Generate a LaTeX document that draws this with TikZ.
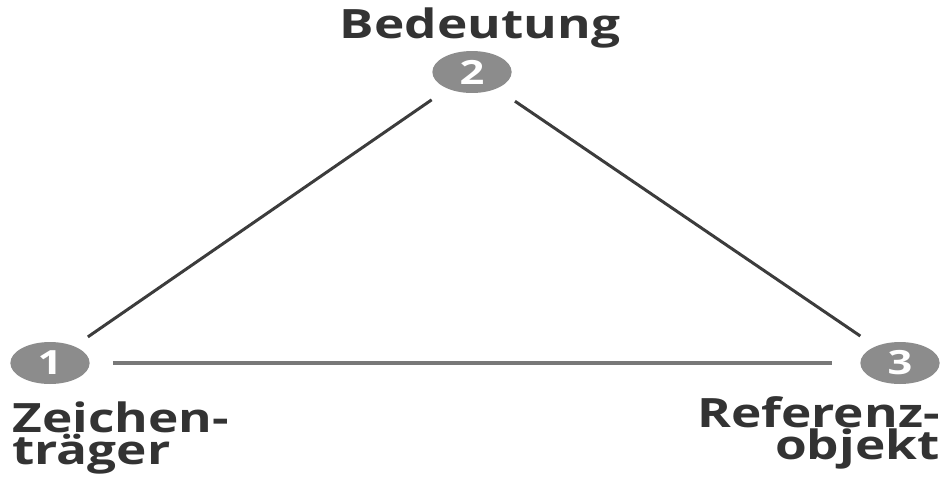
\documentclass[tikz,border=0pt]{standalone}
\usepackage{fontspec}
\setmainfont{Open Sans}
\usetikzlibrary{shapes.geometric}
\definecolor{txtgray}{HTML}{333333}
\definecolor{numgray}{HTML}{8C8C8C}
\definecolor{linegray}{HTML}{3C3C3C}
\definecolor{basegray}{HTML}{787878}
\begin{document}
\begin{tikzpicture}[x=0.02cm, y=-0.02cm,
		num/.style={ellipse, fill=numgray, minimum width=1.22cm, minimum height=0.84cm, inner sep=0pt,
			text=white, font=\fontsize{19}{19}\selectfont\bfseries, xscale=1.3},
		lbl/.style={text=txtgray, inner sep=0pt, xscale=1.27, font=\fontsize{23}{18}\selectfont\bfseries},
		link/.style={draw=linegray, line width=1.7pt}]
		\useasboundingbox (0, 0) rectangle (944, 477);
		
		\foreach \n/\x/\y in {1/50/363, 2/472/72, 3/900/363}
		{
			\node[num] (n\n) at (\x, \y) {\n};
		}
		
		\node[lbl, anchor=base] (bedeutung) at (480, 38) {Bedeutung};
		\node[lbl, anchor=base west, align=left] (zeichen) at (12, 464) {Zeichen-\\träger};
		\node[lbl, anchor=base east, align=right] (referenz) at (940, 459) {Referenz-\\objekt};
		
		\draw[link, shorten <=0.92cm, shorten >=0.98cm] (n1.center) -- (n2.center);
		\draw[link, shorten <=1.04cm, shorten >=0.96cm] (n2.center) -- (n3.center);
		\draw[link, draw=basegray, line width=2pt, shorten <=1.26cm, shorten >=1.36cm] (n1.center) -- (n3.center);
	\end{tikzpicture}
\end{document}
